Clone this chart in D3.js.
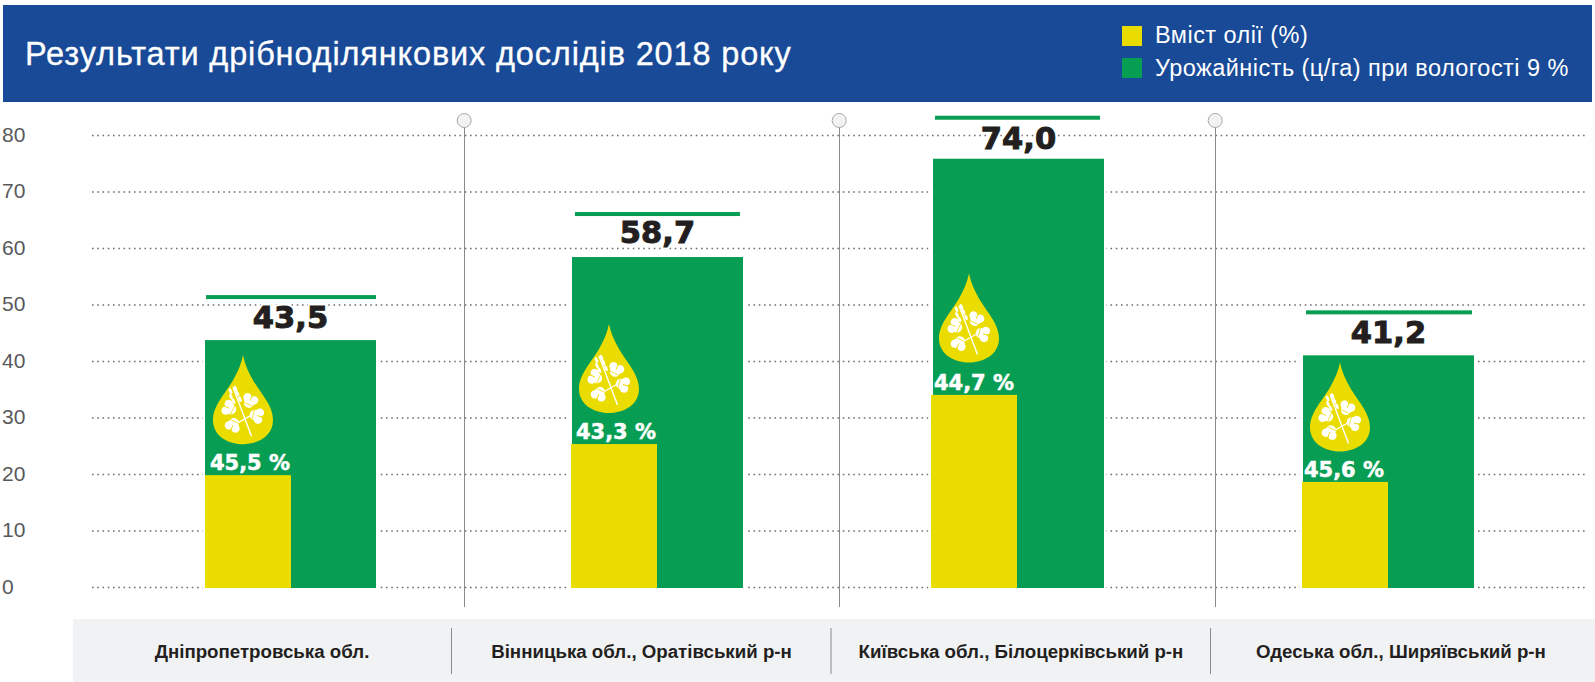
<!DOCTYPE html>
<html>
<head>
<meta charset="utf-8">
<script src="https://d3js.org/d3.v7.min.js"></script>
<style>
 html, body { margin: 0; padding: 0; background: #fff; }
 svg { display: block; font-family: "Liberation Sans", Arial, sans-serif; }
</style>
</head>
<body>
<script>
// data
var categories = ["Дніпропетровська обл.", "Вінницька обл., Оратівський р-н", "Київська обл., Білоцерківський р-н", "Одеська обл., Ширяївський р-н"];
var yieldHeights = [43.7, 58.4, 75.8, 41.0];   // the drawn height, the third bar is not to its label
var oilHeights = [19.8, 25.3, 34.0, 18.6];
var yieldLabels = ["43,5", "58,7", "74,0", "41,2"];
var oilLabels = ["45,5 %", "43,3 %", "44,7 %", "45,6 %"];
var yTicks = [0, 10, 20, 30, 40, 50, 60, 70, 80];
var legendLabels = ["Вміст олії (%)", "Урожайність (ц/га) при вологості 9 %"];
var title = "Результати дрібноділянкових дослідів 2018 року";

var width = 1595, height = 682;
var green = "#079e53", yellow = "#ebdc00", blue = "#184a97", band = "#f1f2f4", sep = "#8a8a8a", ink = "#231f20";

var svg = d3.select("body").append("svg").attr("width", width).attr("height", height);

var y = d3.scaleLinear().domain([0, 80]).range([587, 135]);
// bars are not evenly spaced in the original, so ordinal scales with explicit ranges
var xGreen = d3.scaleOrdinal().domain(categories).range([205, 572, 933, 1303]);
var xYellow = d3.scaleOrdinal().domain(categories).range([205, 571, 931, 1302]);
var xCap = d3.scaleOrdinal().domain(categories).range([206, 575, 935, 1306]);
var xBand = d3.scaleOrdinal().domain(categories).range([262, 641.5, 1021, 1401]);
var greenW = 171, yellowW = 86;
var capW = [170, 165, 165, 166], capGap = [45, 45, 43, 45], valueGap = [12, 14, 10, 12];
var dropGap = [120, 120, 121.5, 119.5], oilDx = [2, 2, 0, -1];

// header
svg.append("rect").attr("x", 3).attr("y", 5).attr("width", 1589).attr("height", 97).attr("fill", blue);
svg.append("text").attr("x", 25).attr("y", 64.5).attr("fill", "#fff")
 .attr("stroke", "#fff").attr("stroke-width", 0.3)
 .attr("font-size", 32.5).attr("letter-spacing", 0.85).text(title);

var legend = svg.selectAll(".legend").data(legendLabels).enter().append("g")
 .attr("transform", function(d, i) { return "translate(1122," + (26 + i * 32) + ")"; });
legend.append("rect").attr("width", 20).attr("height", 20)
 .attr("fill", function(d, i) { return i ? green : yellow; });
legend.append("text").attr("x", 33).attr("y", function(d, i) { return i ? 18 : 17; })
 .attr("fill", "#fff").attr("font-size", 23.5).attr("letter-spacing", 0.45).text(function(d) { return d; });

// y axis with the dotted lines
var axis = svg.append("g").attr("transform", "translate(92,0)")
 .call(d3.axisLeft(y).tickValues(yTicks).tickSize(-1496).tickFormat(d3.format("d")));
axis.select(".domain").remove();
axis.selectAll("line").attr("stroke", "#6e6e6e").attr("stroke-width", 1.6).attr("stroke-dasharray", "1.6 3.65");
axis.selectAll("text").attr("x", -90).attr("dy", "0.3em").attr("text-anchor", "start")
 .attr("fill", "#58595b").attr("font-size", 21).attr("font-family", "'Liberation Sans', Arial, sans-serif");

// vertical separators with the pins
var pins = [464.5, 839.5, 1215.5];
svg.selectAll(".sep").data(pins).enter().append("line")
 .attr("x1", function(d) { return d; }).attr("x2", function(d) { return d; })
 .attr("y1", 127).attr("y2", 607).attr("stroke", sep).attr("stroke-width", 1);
svg.selectAll(".pin").data(pins).enter().append("circle")
 .attr("cx", function(d) { return d - 0.3; }).attr("cy", 120.5).attr("r", 7)
 .attr("fill", "#f1f2f4").attr("stroke", "#a8a8a8").attr("stroke-width", 1);

// the drop icon, origin at its tip
var defs = svg.append("defs");
var drop = defs.append("g").attr("id", "drop");
drop.append("path").attr("fill", yellow)
 .attr("d", "M0,0C1.5,8 5,16 10,25C18,39 30,50 30,65C30,80 16,89 0,89C-16,89 -30,80 -30,65C-30,50 -18,39 -10,25C-5,16 -1.5,8 0,0Z");
drop.append("line").attr("x1", -10).attr("y1", 32).attr("x2", 8.5).attr("y2", 81)
 .attr("stroke", "#fff").attr("stroke-width", 1.4);
drop.append("line").attr("x1", -9).attr("y1", 70).attr("x2", 12).attr("y2", 58)
 .attr("stroke", "#fff").attr("stroke-width", 1.2);
// wheat grains
[[-12.5, 36], [-7.5, 33.5], [-12, 41.5], [-5.5, 38.5], [-9.5, 46], [-3, 44]].forEach(function(g) {
 drop.append("ellipse").attr("cx", g[0]).attr("cy", g[1]).attr("rx", 1.5).attr("ry", 3)
  .attr("transform", "rotate(-25 " + g[0] + " " + g[1] + ")").attr("fill", "#fff");
});
// the four leaves
[[7, 45.5, 25], [-14, 53, -65], [14, 60.5, 105], [-10, 70, 205]].forEach(function(l) {
 var leaf = drop.append("g").attr("transform", "translate(" + l[0] + "," + l[1] + ") rotate(" + l[2] + ")");
 [[-3.6, -2, 4.2], [3.6, -2, 4.2], [0, 2.2, 5.2]].forEach(function(c) {
  leaf.append("circle").attr("cx", c[0]).attr("cy", c[1]).attr("r", c[2]).attr("fill", "#fff");
 });
 leaf.append("line").attr("x1", 0).attr("y1", -6).attr("x2", 0).attr("y2", 0)
  .attr("stroke", yellow).attr("stroke-width", 0.9);
 leaf.append("line").attr("x1", -5).attr("y1", 4).attr("x2", 5).attr("y2", 4)
  .attr("stroke", yellow).attr("stroke-width", 0.7);
});

// bars
var groups = svg.selectAll(".cat").data(categories).enter().append("g").attr("class", "cat");

groups.append("rect") // white margin that cuts the dotted lines near the bars
 .attr("x", function(d) { return xYellow(d) - 2.5; })
 .attr("y", function(d, i) { return y(yieldHeights[i]); })
 .attr("width", function(d) { return xGreen(d) + greenW - xYellow(d) + 5; })
 .attr("height", function(d, i) { return y(0) - y(yieldHeights[i]) + 2; })
 .attr("fill", "#fff");
groups.append("rect")
 .attr("x", function(d) { return xGreen(d); })
 .attr("y", function(d, i) { return y(yieldHeights[i]); })
 .attr("width", greenW)
 .attr("height", function(d, i) { return y(0) - y(yieldHeights[i]) + 1; })
 .attr("fill", green);
groups.append("rect")
 .attr("x", function(d) { return xYellow(d); })
 .attr("y", function(d, i) { return y(oilHeights[i]); })
 .attr("width", yellowW)
 .attr("height", function(d, i) { return y(0) - y(oilHeights[i]) + 1; })
 .attr("fill", yellow);

groups.append("use").attr("href", "#drop")
 .attr("transform", function(d, i) { return "translate(" + (xYellow(d) + yellowW / 2 - 5) + "," + (y(oilHeights[i]) - dropGap[i]) + ")"; });

groups.append("text")
 .attr("x", function(d, i) { return xYellow(d) + yellowW / 2 + oilDx[i]; })
 .attr("y", function(d, i) { return y(oilHeights[i]) - 5; })
 .attr("text-anchor", "middle").attr("fill", "#fff")
 .attr("stroke", "#fff").attr("stroke-width", 0.5)
 .attr("font-family", "'DejaVu Sans'").attr("font-weight", "bold").attr("font-size", 21)
 .text(function(d, i) { return oilLabels[i]; });

// the small line over each value
groups.append("rect")
 .attr("x", function(d) { return xCap(d); })
 .attr("y", function(d, i) { return y(yieldHeights[i]) - capGap[i]; })
 .attr("width", function(d, i) { return capW[i]; })
 .attr("height", 4)
 .attr("fill", green);

// value labels, a white halo first and then the heavy text
[["#fff", 5], [ink, 1]].forEach(function(layer) {
 groups.append("text")
  .attr("x", function(d) { return xGreen(d) + greenW / 2; })
  .attr("y", function(d, i) { return y(yieldHeights[i]) - valueGap[i]; })
  .attr("text-anchor", "middle").attr("fill", layer[0])
  .attr("font-family", "'DejaVu Sans'").attr("font-weight", "bold").attr("font-size", 30.5)
  .attr("stroke", layer[0]).attr("stroke-width", layer[1])
  .text(function(d, i) { return yieldLabels[i]; });
});

// bottom band with category names
svg.append("rect").attr("x", 73).attr("y", 619).attr("width", width - 73).attr("height", 63).attr("fill", band);
svg.selectAll(".bandsep").data([451.5, 831, 1210.5]).enter().append("line")
 .attr("x1", function(d) { return d; }).attr("x2", function(d) { return d; })
 .attr("y1", 628).attr("y2", 674).attr("stroke", sep).attr("stroke-width", 1);
svg.selectAll(".catlabel").data(categories).enter().append("text")
 .attr("x", function(d) { return xBand(d); }).attr("y", 658)
 .attr("text-anchor", "middle").attr("fill", ink)
 .attr("font-weight", "bold").attr("font-size", 18.7)
 .text(function(d) { return d; });
</script>
</body>
</html>
